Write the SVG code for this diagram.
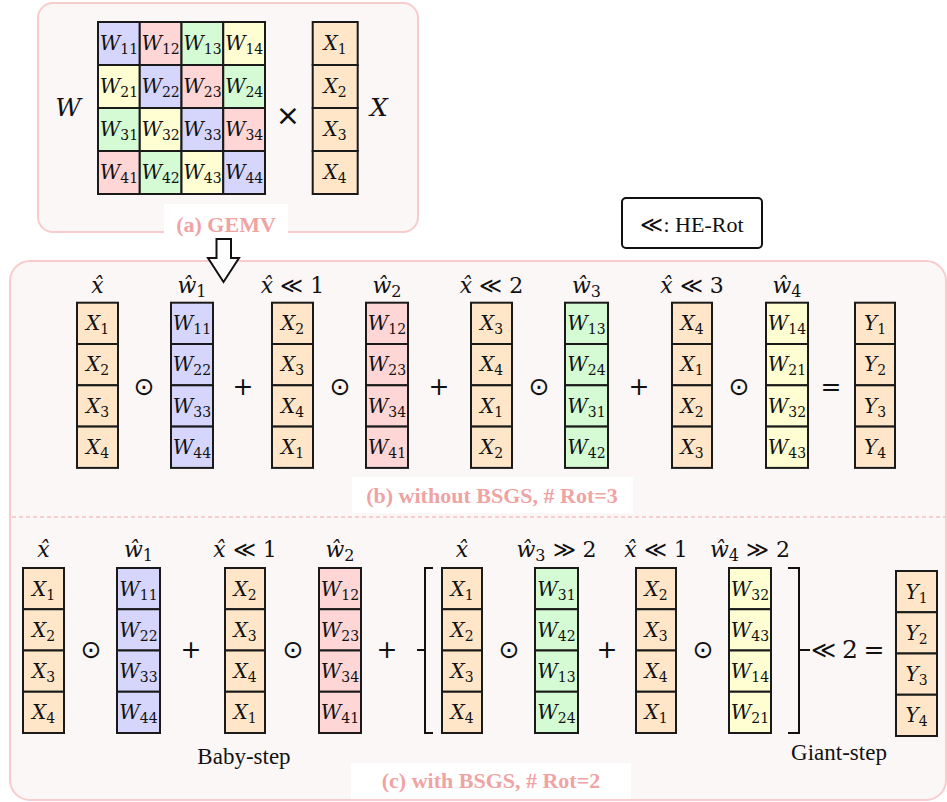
<svg xmlns="http://www.w3.org/2000/svg" width="947" height="802" viewBox="0 0 947 802">
<style>
.panel{fill:#fcf7f7;stroke:#f8cccc;stroke-width:2}
.lbox{fill:#ffffff}
.lab{font-family:"Liberation Serif",serif;font-weight:bold;font-size:22px;fill:#f0a3a3;text-anchor:middle}
.cell{stroke:#1a1a1a;stroke-width:2}
.o{fill:#ffe6c8}.b{fill:#d6d6fd}.p{fill:#ffd6d6}.g{fill:#d4fbd4}.y{fill:#fefed2}
.m{font-family:"DejaVu Serif",serif;font-style:italic;font-size:20px;fill:#111;text-anchor:middle}
.s{font-style:normal;font-size:14px}
.hd{font-family:"DejaVu Serif",serif;font-style:italic;font-size:22px;fill:#111;text-anchor:middle}
.n{font-style:normal}
.hs{font-style:normal;font-size:16px}
.op{font-family:"DejaVu Sans",sans-serif;font-size:25px;fill:#111;text-anchor:middle}
.txt{font-family:"Liberation Serif","DejaVu Serif",serif;font-size:23px;fill:#111;text-anchor:middle}
.ln{fill:none;stroke:#111;stroke-width:2}
</style>

<!-- Panel (a) -->
<g id="panel-a">
<rect class="panel" x="38" y="3" width="380" height="229" rx="15"/>
<text class="m" x="68" y="116" style="font-size:25px">W</text>
<text class="op" x="288" y="125" style="font-size:29px">×</text>
<text class="m" x="379" y="116" style="font-size:25px">X</text>
<g id="matrix-w">
<rect class="cell b" x="98" y="22" width="41.75" height="43"/>
<rect class="cell p" x="139.75" y="22" width="41.75" height="43"/>
<rect class="cell g" x="181.5" y="22" width="41.75" height="43"/>
<rect class="cell y" x="223.25" y="22" width="41.75" height="43"/>
<rect class="cell y" x="98" y="65" width="41.75" height="43"/>
<rect class="cell b" x="139.75" y="65" width="41.75" height="43"/>
<rect class="cell p" x="181.5" y="65" width="41.75" height="43"/>
<rect class="cell g" x="223.25" y="65" width="41.75" height="43"/>
<rect class="cell g" x="98" y="108" width="41.75" height="43"/>
<rect class="cell y" x="139.75" y="108" width="41.75" height="43"/>
<rect class="cell b" x="181.5" y="108" width="41.75" height="43"/>
<rect class="cell p" x="223.25" y="108" width="41.75" height="43"/>
<rect class="cell p" x="98" y="151" width="41.75" height="43"/>
<rect class="cell g" x="139.75" y="151" width="41.75" height="43"/>
<rect class="cell y" x="181.5" y="151" width="41.75" height="43"/>
<rect class="cell b" x="223.25" y="151" width="41.75" height="43"/>
<text class="m" x="119" y="50">W<tspan class="s" dy="4">11</tspan></text>
<text class="m" x="160.6" y="50">W<tspan class="s" dy="4">12</tspan></text>
<text class="m" x="202.4" y="50">W<tspan class="s" dy="4">13</tspan></text>
<text class="m" x="244.1" y="50">W<tspan class="s" dy="4">14</tspan></text>
<text class="m" x="119" y="93">W<tspan class="s" dy="4">21</tspan></text>
<text class="m" x="160.6" y="93">W<tspan class="s" dy="4">22</tspan></text>
<text class="m" x="202.4" y="93">W<tspan class="s" dy="4">23</tspan></text>
<text class="m" x="244.1" y="93">W<tspan class="s" dy="4">24</tspan></text>
<text class="m" x="119" y="136">W<tspan class="s" dy="4">31</tspan></text>
<text class="m" x="160.6" y="136">W<tspan class="s" dy="4">32</tspan></text>
<text class="m" x="202.4" y="136">W<tspan class="s" dy="4">33</tspan></text>
<text class="m" x="244.1" y="136">W<tspan class="s" dy="4">34</tspan></text>
<text class="m" x="119" y="179">W<tspan class="s" dy="4">41</tspan></text>
<text class="m" x="160.6" y="179">W<tspan class="s" dy="4">42</tspan></text>
<text class="m" x="202.4" y="179">W<tspan class="s" dy="4">43</tspan></text>
<text class="m" x="244.1" y="179">W<tspan class="s" dy="4">44</tspan></text>
</g>
<g id="vector-x">
<rect class="cell o" x="312.7" y="22" width="45" height="43"/>
<rect class="cell o" x="312.7" y="65" width="45" height="43"/>
<rect class="cell o" x="312.7" y="108" width="45" height="43"/>
<rect class="cell o" x="312.7" y="151" width="45" height="43"/>
<text class="m" x="335" y="50">X<tspan class="s" dy="4">1</tspan></text>
<text class="m" x="335" y="93">X<tspan class="s" dy="4">2</tspan></text>
<text class="m" x="335" y="136">X<tspan class="s" dy="4">3</tspan></text>
<text class="m" x="335" y="179">X<tspan class="s" dy="4">4</tspan></text>
</g>
<rect class="lbox" x="164" y="204" width="124" height="36"/>
<text class="lab" x="226" y="232">(a) GEMV</text>
</g>

<g id="he-rot-legend">
<rect x="622" y="198" width="140" height="50" rx="4" fill="#fff" stroke="#111" stroke-width="2"/>
<text class="txt" x="692" y="232" style="font-size:22px">≪: HE-Rot</text>
</g>

<!-- Panel (b)/(c) background -->
<g id="panel-bc">
<rect class="panel" x="10" y="261" width="936" height="539" rx="20"/>
<line x1="12" y1="517" x2="945" y2="517" stroke="#f8c0c0" stroke-width="1.5" stroke-dasharray="4 3"/>
<rect class="lbox" x="352" y="477" width="281" height="36"/>
<text class="lab" x="492" y="503">(b) without BSGS, # Rot=3</text>
<rect class="lbox" x="351" y="763" width="280" height="36"/>
<text class="lab" x="491" y="788">(c) with BSGS, # Rot=2</text>
</g>

<g id="connectors">
<polygon points="216.5,239 231,239 231,258 239,258 223.5,282 208,258 216.5,258" fill="#fff" stroke="#111" stroke-width="2"/>
</g>

<!-- Panel (b) -->
<g id="panel-b">
<g id="b-labels">
<text class="hd" x="97.5" y="293">x̂</text>
<text class="hd" x="192" y="293">ŵ<tspan class="hs" dy="4">1</tspan></text>
<text class="hd" x="292.5" y="293">x̂<tspan class="n"> ≪ 1</tspan></text>
<text class="hd" x="387" y="293">ŵ<tspan class="hs" dy="4">2</tspan></text>
<text class="hd" x="491.5" y="293">x̂<tspan class="n"> ≪ 2</tspan></text>
<text class="hd" x="586.5" y="293">ŵ<tspan class="hs" dy="4">3</tspan></text>
<text class="hd" x="692" y="293">x̂<tspan class="n"> ≪ 3</tspan></text>
<text class="hd" x="787" y="293">ŵ<tspan class="hs" dy="4">4</tspan></text>
</g>
<g id="b-ops">
<text class="op" x="144" y="395">⊙</text>
<text class="op" x="243" y="395">+</text>
<text class="op" x="340" y="395">⊙</text>
<text class="op" x="439" y="395">+</text>
<text class="op" x="539" y="395">⊙</text>
<text class="op" x="639" y="395">+</text>
<text class="op" x="739" y="395">⊙</text>
<text class="op" x="831" y="395">=</text>
</g>
<g id="b-xhat">
<rect class="cell o" x="77" y="302.7" width="41" height="41.3"/>
<rect class="cell o" x="77" y="344" width="41" height="41.3"/>
<rect class="cell o" x="77" y="385.3" width="41" height="41.3"/>
<rect class="cell o" x="77" y="426.6" width="41" height="41.3"/>
<text class="m" x="97.5" y="330">X<tspan class="s" dy="4">1</tspan></text>
<text class="m" x="97.5" y="371">X<tspan class="s" dy="4">2</tspan></text>
<text class="m" x="97.5" y="413">X<tspan class="s" dy="4">3</tspan></text>
<text class="m" x="97.5" y="454">X<tspan class="s" dy="4">4</tspan></text>
</g>
<g id="b-w1">
<rect class="cell b" x="171" y="302.7" width="42" height="41.3"/>
<rect class="cell b" x="171" y="344" width="42" height="41.3"/>
<rect class="cell b" x="171" y="385.3" width="42" height="41.3"/>
<rect class="cell b" x="171" y="426.6" width="42" height="41.3"/>
<text class="m" x="192" y="330">W<tspan class="s" dy="4">11</tspan></text>
<text class="m" x="192" y="371">W<tspan class="s" dy="4">22</tspan></text>
<text class="m" x="192" y="413">W<tspan class="s" dy="4">33</tspan></text>
<text class="m" x="192" y="454">W<tspan class="s" dy="4">44</tspan></text>
</g>
<g id="b-xrot1">
<rect class="cell o" x="272" y="302.7" width="41" height="41.3"/>
<rect class="cell o" x="272" y="344" width="41" height="41.3"/>
<rect class="cell o" x="272" y="385.3" width="41" height="41.3"/>
<rect class="cell o" x="272" y="426.6" width="41" height="41.3"/>
<text class="m" x="292.5" y="330">X<tspan class="s" dy="4">2</tspan></text>
<text class="m" x="292.5" y="371">X<tspan class="s" dy="4">3</tspan></text>
<text class="m" x="292.5" y="413">X<tspan class="s" dy="4">4</tspan></text>
<text class="m" x="292.5" y="454">X<tspan class="s" dy="4">1</tspan></text>
</g>
<g id="b-w2">
<rect class="cell p" x="366" y="302.7" width="42" height="41.3"/>
<rect class="cell p" x="366" y="344" width="42" height="41.3"/>
<rect class="cell p" x="366" y="385.3" width="42" height="41.3"/>
<rect class="cell p" x="366" y="426.6" width="42" height="41.3"/>
<text class="m" x="387" y="330">W<tspan class="s" dy="4">12</tspan></text>
<text class="m" x="387" y="371">W<tspan class="s" dy="4">23</tspan></text>
<text class="m" x="387" y="413">W<tspan class="s" dy="4">34</tspan></text>
<text class="m" x="387" y="454">W<tspan class="s" dy="4">41</tspan></text>
</g>
<g id="b-xrot2">
<rect class="cell o" x="471" y="302.7" width="41" height="41.3"/>
<rect class="cell o" x="471" y="344" width="41" height="41.3"/>
<rect class="cell o" x="471" y="385.3" width="41" height="41.3"/>
<rect class="cell o" x="471" y="426.6" width="41" height="41.3"/>
<text class="m" x="491.5" y="330">X<tspan class="s" dy="4">3</tspan></text>
<text class="m" x="491.5" y="371">X<tspan class="s" dy="4">4</tspan></text>
<text class="m" x="491.5" y="413">X<tspan class="s" dy="4">1</tspan></text>
<text class="m" x="491.5" y="454">X<tspan class="s" dy="4">2</tspan></text>
</g>
<g id="b-w3">
<rect class="cell g" x="565" y="302.7" width="43" height="41.3"/>
<rect class="cell g" x="565" y="344" width="43" height="41.3"/>
<rect class="cell g" x="565" y="385.3" width="43" height="41.3"/>
<rect class="cell g" x="565" y="426.6" width="43" height="41.3"/>
<text class="m" x="586.5" y="330">W<tspan class="s" dy="4">13</tspan></text>
<text class="m" x="586.5" y="371">W<tspan class="s" dy="4">24</tspan></text>
<text class="m" x="586.5" y="413">W<tspan class="s" dy="4">31</tspan></text>
<text class="m" x="586.5" y="454">W<tspan class="s" dy="4">42</tspan></text>
</g>
<g id="b-xrot3">
<rect class="cell o" x="672" y="302.7" width="40" height="41.3"/>
<rect class="cell o" x="672" y="344" width="40" height="41.3"/>
<rect class="cell o" x="672" y="385.3" width="40" height="41.3"/>
<rect class="cell o" x="672" y="426.6" width="40" height="41.3"/>
<text class="m" x="692" y="330">X<tspan class="s" dy="4">4</tspan></text>
<text class="m" x="692" y="371">X<tspan class="s" dy="4">1</tspan></text>
<text class="m" x="692" y="413">X<tspan class="s" dy="4">2</tspan></text>
<text class="m" x="692" y="454">X<tspan class="s" dy="4">3</tspan></text>
</g>
<g id="b-w4">
<rect class="cell y" x="766" y="302.7" width="42" height="41.3"/>
<rect class="cell y" x="766" y="344" width="42" height="41.3"/>
<rect class="cell y" x="766" y="385.3" width="42" height="41.3"/>
<rect class="cell y" x="766" y="426.6" width="42" height="41.3"/>
<text class="m" x="787" y="330">W<tspan class="s" dy="4">14</tspan></text>
<text class="m" x="787" y="371">W<tspan class="s" dy="4">21</tspan></text>
<text class="m" x="787" y="413">W<tspan class="s" dy="4">32</tspan></text>
<text class="m" x="787" y="454">W<tspan class="s" dy="4">43</tspan></text>
</g>
<g id="b-y">
<rect class="cell o" x="855" y="302.7" width="40" height="41.3"/>
<rect class="cell o" x="855" y="344" width="40" height="41.3"/>
<rect class="cell o" x="855" y="385.3" width="40" height="41.3"/>
<rect class="cell o" x="855" y="426.6" width="40" height="41.3"/>
<text class="m" x="875" y="330">Y<tspan class="s" dy="4">1</tspan></text>
<text class="m" x="875" y="371">Y<tspan class="s" dy="4">2</tspan></text>
<text class="m" x="875" y="413">Y<tspan class="s" dy="4">3</tspan></text>
<text class="m" x="875" y="454">Y<tspan class="s" dy="4">4</tspan></text>
</g>
</g>

<!-- Panel (c) -->
<g id="panel-c">
<g id="c-labels">
<text class="hd" x="43.5" y="557">x̂</text>
<text class="hd" x="138.5" y="557">ŵ<tspan class="hs" dy="4">1</tspan></text>
<text class="hd" x="245" y="557">x̂<tspan class="n"> ≪ 1</tspan></text>
<text class="hd" x="340" y="557">ŵ<tspan class="hs" dy="4">2</tspan></text>
<text class="hd" x="462" y="557">x̂</text>
<text class="hd" x="556.5" y="557">ŵ<tspan class="hs" dy="4">3</tspan><tspan class="n" dy="-4"> ≫ 2</tspan></text>
<text class="hd" x="656" y="557">x̂<tspan class="n"> ≪ 1</tspan></text>
<text class="hd" x="750" y="557">ŵ<tspan class="hs" dy="4">4</tspan><tspan class="n" dy="-4"> ≫ 2</tspan></text>
</g>
<g id="c-ops">
<text class="op" x="91" y="658">⊙</text>
<text class="op" x="191" y="658">+</text>
<text class="op" x="293" y="658">⊙</text>
<text class="op" x="387" y="658">+</text>
<text class="op" x="509" y="658">⊙</text>
<text class="op" x="607" y="658">+</text>
<text class="op" x="703" y="658">⊙</text>
<text class="hd" x="823" y="658" style="font-style:normal;font-size:24px">≪</text>
<text class="hd" x="850" y="658" style="font-style:normal;font-size:25px">2</text>
<text class="op" x="874" y="658">=</text>
</g>
<g id="c-brackets">
<path class="ln" d="M433,568 H425 V733 H433 M417,650 H425"/>
<path class="ln" d="M788,568 H799 V733 H788 M799,650 H810"/>
</g>
<g id="c-xhat">
<rect class="cell o" x="23" y="568" width="41" height="41.25"/>
<rect class="cell o" x="23" y="609.25" width="41" height="41.25"/>
<rect class="cell o" x="23" y="650.5" width="41" height="41.25"/>
<rect class="cell o" x="23" y="691.75" width="41" height="41.25"/>
<text class="m" x="43.5" y="596">X<tspan class="s" dy="4">1</tspan></text>
<text class="m" x="43.5" y="637">X<tspan class="s" dy="4">2</tspan></text>
<text class="m" x="43.5" y="678">X<tspan class="s" dy="4">3</tspan></text>
<text class="m" x="43.5" y="719">X<tspan class="s" dy="4">4</tspan></text>
</g>
<g id="c-w1">
<rect class="cell b" x="117" y="568" width="43" height="41.25"/>
<rect class="cell b" x="117" y="609.25" width="43" height="41.25"/>
<rect class="cell b" x="117" y="650.5" width="43" height="41.25"/>
<rect class="cell b" x="117" y="691.75" width="43" height="41.25"/>
<text class="m" x="138.5" y="596">W<tspan class="s" dy="4">11</tspan></text>
<text class="m" x="138.5" y="637">W<tspan class="s" dy="4">22</tspan></text>
<text class="m" x="138.5" y="678">W<tspan class="s" dy="4">33</tspan></text>
<text class="m" x="138.5" y="719">W<tspan class="s" dy="4">44</tspan></text>
</g>
<g id="c-xrot1">
<rect class="cell o" x="225" y="568" width="40" height="41.25"/>
<rect class="cell o" x="225" y="609.25" width="40" height="41.25"/>
<rect class="cell o" x="225" y="650.5" width="40" height="41.25"/>
<rect class="cell o" x="225" y="691.75" width="40" height="41.25"/>
<text class="m" x="245" y="596">X<tspan class="s" dy="4">2</tspan></text>
<text class="m" x="245" y="637">X<tspan class="s" dy="4">3</tspan></text>
<text class="m" x="245" y="678">X<tspan class="s" dy="4">4</tspan></text>
<text class="m" x="245" y="719">X<tspan class="s" dy="4">1</tspan></text>
</g>
<g id="c-w2">
<rect class="cell p" x="319" y="568" width="42" height="41.25"/>
<rect class="cell p" x="319" y="609.25" width="42" height="41.25"/>
<rect class="cell p" x="319" y="650.5" width="42" height="41.25"/>
<rect class="cell p" x="319" y="691.75" width="42" height="41.25"/>
<text class="m" x="340" y="596">W<tspan class="s" dy="4">12</tspan></text>
<text class="m" x="340" y="637">W<tspan class="s" dy="4">23</tspan></text>
<text class="m" x="340" y="678">W<tspan class="s" dy="4">34</tspan></text>
<text class="m" x="340" y="719">W<tspan class="s" dy="4">41</tspan></text>
</g>
<g id="c-xhat2">
<rect class="cell o" x="442" y="568" width="40" height="41.25"/>
<rect class="cell o" x="442" y="609.25" width="40" height="41.25"/>
<rect class="cell o" x="442" y="650.5" width="40" height="41.25"/>
<rect class="cell o" x="442" y="691.75" width="40" height="41.25"/>
<text class="m" x="462" y="596">X<tspan class="s" dy="4">1</tspan></text>
<text class="m" x="462" y="637">X<tspan class="s" dy="4">2</tspan></text>
<text class="m" x="462" y="678">X<tspan class="s" dy="4">3</tspan></text>
<text class="m" x="462" y="719">X<tspan class="s" dy="4">4</tspan></text>
</g>
<g id="c-w3">
<rect class="cell g" x="535" y="568" width="43" height="41.25"/>
<rect class="cell g" x="535" y="609.25" width="43" height="41.25"/>
<rect class="cell g" x="535" y="650.5" width="43" height="41.25"/>
<rect class="cell g" x="535" y="691.75" width="43" height="41.25"/>
<text class="m" x="556.5" y="596">W<tspan class="s" dy="4">31</tspan></text>
<text class="m" x="556.5" y="637">W<tspan class="s" dy="4">42</tspan></text>
<text class="m" x="556.5" y="678">W<tspan class="s" dy="4">13</tspan></text>
<text class="m" x="556.5" y="719">W<tspan class="s" dy="4">24</tspan></text>
</g>
<g id="c-xrot1b">
<rect class="cell o" x="636" y="568" width="40" height="41.25"/>
<rect class="cell o" x="636" y="609.25" width="40" height="41.25"/>
<rect class="cell o" x="636" y="650.5" width="40" height="41.25"/>
<rect class="cell o" x="636" y="691.75" width="40" height="41.25"/>
<text class="m" x="656" y="596">X<tspan class="s" dy="4">2</tspan></text>
<text class="m" x="656" y="637">X<tspan class="s" dy="4">3</tspan></text>
<text class="m" x="656" y="678">X<tspan class="s" dy="4">4</tspan></text>
<text class="m" x="656" y="719">X<tspan class="s" dy="4">1</tspan></text>
</g>
<g id="c-w4">
<rect class="cell y" x="729" y="568" width="42" height="41.25"/>
<rect class="cell y" x="729" y="609.25" width="42" height="41.25"/>
<rect class="cell y" x="729" y="650.5" width="42" height="41.25"/>
<rect class="cell y" x="729" y="691.75" width="42" height="41.25"/>
<text class="m" x="750" y="596">W<tspan class="s" dy="4">32</tspan></text>
<text class="m" x="750" y="637">W<tspan class="s" dy="4">43</tspan></text>
<text class="m" x="750" y="678">W<tspan class="s" dy="4">14</tspan></text>
<text class="m" x="750" y="719">W<tspan class="s" dy="4">21</tspan></text>
</g>
<g id="c-y">
<rect class="cell o" x="896" y="571" width="41" height="41.25"/>
<rect class="cell o" x="896" y="612.25" width="41" height="41.25"/>
<rect class="cell o" x="896" y="653.5" width="41" height="41.25"/>
<rect class="cell o" x="896" y="694.75" width="41" height="41.25"/>
<text class="m" x="916.5" y="599">Y<tspan class="s" dy="4">1</tspan></text>
<text class="m" x="916.5" y="640">Y<tspan class="s" dy="4">2</tspan></text>
<text class="m" x="916.5" y="681">Y<tspan class="s" dy="4">3</tspan></text>
<text class="m" x="916.5" y="722">Y<tspan class="s" dy="4">4</tspan></text>
</g>
<text class="txt" x="244" y="764">Baby-step</text>
<text class="txt" x="839" y="760">Giant-step</text>
</g>
</svg>
